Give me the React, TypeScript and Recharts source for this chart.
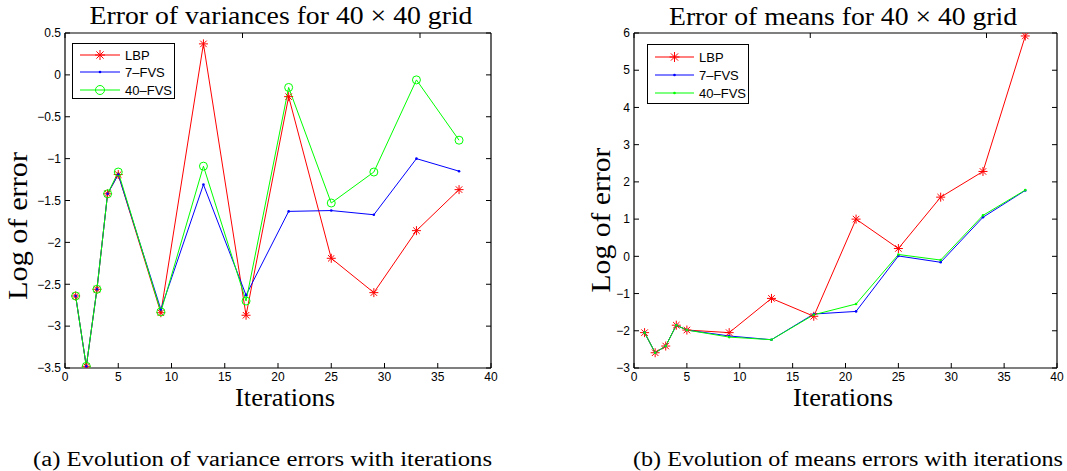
import React from 'react';
import { LineChart, Line, XAxis, YAxis, Legend } from 'recharts';

const iterations = [1, 2, 3, 4, 5, 9, 13, 17, 21, 25, 29, 33, 37];

const varLBP = [-2.64, -3.48, -2.56, -1.42, -1.19, -2.84, 0.37, -2.87, -0.26, -2.19, -2.6, -1.86, -1.37];
const var7FVS = [-2.64, -3.48, -2.56, -1.42, -1.19, -2.8, -1.31, -2.63, -1.63, -1.62, -1.67, -1.0, -1.15];
const var40FVS = [-2.64, -3.48, -2.56, -1.42, -1.16, -2.83, -1.09, -2.7, -0.15, -1.53, -1.16, -0.06, -0.78];

const meanLBP = [-2.05, -2.59, -2.41, -1.85, -1.98, -2.05, -1.13, -1.61, 1.0, 0.21, 1.59, 2.28, 5.92];
const mean7FVS = [-2.05, -2.59, -2.41, -1.85, -1.98, -2.14, -2.24, -1.55, -1.48, 0.01, -0.16, 1.05, 1.77];
const mean40FVS = [-2.05, -2.59, -2.41, -1.85, -1.98, -2.17, -2.24, -1.57, -1.28, 0.05, -0.1, 1.1, 1.78];

const xTicks = [0, 5, 10, 15, 20, 25, 30, 35, 40];
const varTicks = [-3.5, -3, -2.5, -2, -1.5, -1, -0.5, 0, 0.5];
const meanTicks = [-3, -2, -1, 0, 1, 2, 3, 4, 5, 6];

const seriesNames = ['LBP', '7\u2013FVS', '40\u2013FVS'];
const captions = ['(a) Evolution of variance errors with iterations', '(b) Evolution of means errors with iterations'];

const RED = '#ff0000';
const BLUE = '#0000ff';
const GREEN = '#00ff00';

const varData = iterations.map((it, i) => ({ it, lbp: varLBP[i], f7: var7FVS[i], f40: var40FVS[i] }));
const meanData = iterations.map((it, i) => ({ it, lbp: meanLBP[i], f7: mean7FVS[i], f40: mean40FVS[i] }));

const fmt = (v: number) => String(v).replace('-', '\u2212');
const blank = () => '';

const sans = "'Liberation Sans', Arial, sans-serif";
const serif = "'Liberation Serif', 'Times New Roman', serif";

const tickStyle = { fontFamily: sans, fontSize: 12, fill: '#000' };

function Asterisk({ cx, cy, color, r = 4.5 }: any) {
  if (cx == null || cy == null) return <g />;
  const d = r * 0.72;
  return (
    <g stroke={color} strokeWidth={1} fill="none">
      <line x1={cx - r} y1={cy} x2={cx + r} y2={cy} />
      <line x1={cx} y1={cy - r} x2={cx} y2={cy + r} />
      <line x1={cx - d} y1={cy - d} x2={cx + d} y2={cy + d} />
      <line x1={cx - d} y1={cy + d} x2={cx + d} y2={cy - d} />
    </g>
  );
}

const starDot = (props: any) => <Asterisk key={`s-${props.index}`} cx={props.cx} cy={props.cy} color={RED} />;
const blueDot = (props: any) => (
  <circle key={`b-${props.index}`} cx={props.cx} cy={props.cy} r={1.3} fill={BLUE} stroke="none" />
);
const greenSmallDot = (props: any) => (
  <circle key={`g-${props.index}`} cx={props.cx} cy={props.cy} r={1.3} fill={GREEN} stroke="none" />
);
const greenCircle = (props: any) => (
  <circle key={`c-${props.index}`} cx={props.cx} cy={props.cy} r={4} fill="none" stroke={GREEN} strokeWidth={1} />
);

function LegendBox({ rowY, lineX1, lineX2, textX, boxW, boxH, circle }: any) {
  const w = boxW;
  const h = boxH;
  const mid = (lineX1 + lineX2) / 2;
  return (
    <div style={{ width: w, height: h, position: 'relative', background: '#fff', border: '1.3px solid #000', boxSizing: 'border-box' }}>
      <svg width={w} height={h} style={{ position: 'absolute', left: -1, top: -1 }}>
        {[RED, BLUE, GREEN].map((c, i) => (
          <g key={c}>
            <line x1={lineX1} x2={lineX2} y1={rowY[i]} y2={rowY[i]} stroke={c} strokeWidth={1.2} />
            {i === 0 && <Asterisk cx={mid} cy={rowY[i]} color={RED} r={5} />}
            {i === 1 && <circle cx={mid} cy={rowY[i]} r={1.3} fill={BLUE} />}
            {i === 2 && (circle ? (
              <circle cx={mid} cy={rowY[i]} r={4.5} fill="none" stroke={GREEN} strokeWidth={1} />
            ) : (
              <circle cx={mid} cy={rowY[i]} r={1.3} fill={GREEN} />
            ))}
            <text x={textX} y={rowY[i] + 4.5} fontFamily={sans} fontSize={13} fill="#000">
              {seriesNames[i]}
            </text>
          </g>
        ))}
      </svg>
    </div>
  );
}

const axisLine = { stroke: '#000', strokeWidth: 1.2 };
const tickLine = { stroke: '#000' };

function Panel({ data, yDomain, yTicks, width, margin, legendPos, legendProps, circle }: any) {
  return (
    <LineChart width={width} height={471} data={data} margin={margin}>
      <XAxis
        dataKey="it"
        type="number"
        domain={[0, 40]}
        ticks={xTicks}
        height={1}
        tickSize={-5}
        tickMargin={9}
        tick={tickStyle}
        axisLine={axisLine}
        tickLine={tickLine}
        interval={0}
        allowDataOverflow
      />
      <XAxis
        xAxisId="top"
        orientation="top"
        type="number"
        domain={[0, 40]}
        ticks={xTicks}
        height={1}
        tickSize={-5}
        tickFormatter={blank}
        axisLine={axisLine}
        tickLine={tickLine}
        interval={0}
        allowDataOverflow
      />
      <YAxis
        type="number"
        domain={yDomain}
        ticks={yTicks}
        width={1}
        tickSize={-5}
        tickMargin={9}
        tick={tickStyle}
        tickFormatter={fmt}
        axisLine={axisLine}
        tickLine={tickLine}
        interval={0}
        allowDataOverflow
      />
      <YAxis
        yAxisId="right"
        orientation="right"
        type="number"
        domain={yDomain}
        ticks={yTicks}
        width={1}
        tickSize={-5}
        tickFormatter={blank}
        axisLine={axisLine}
        tickLine={tickLine}
        interval={0}
        allowDataOverflow
      />
      <Legend
        layout="horizontal"
        verticalAlign="middle"
        align="center"
        content={() => <LegendBox {...legendProps} circle={circle} />}
        wrapperStyle={{ position: 'absolute', left: legendPos.left, top: legendPos.top, width: 'auto', height: 'auto' }}
      />
      <Line dataKey="lbp" name="LBP" stroke={RED} strokeWidth={1} dot={starDot} isAnimationActive={false} />
      <Line dataKey="f7" name="7–FVS" stroke={BLUE} strokeWidth={1} dot={blueDot} isAnimationActive={false} />
      <Line dataKey="f40" name="40–FVS" stroke={GREEN} strokeWidth={1} dot={circle ? greenCircle : greenSmallDot} isAnimationActive={false} />
    </LineChart>
  );
}

export default function App() {
  return (
    <div style={{ position: 'absolute', left: 0, top: 0, width: 1067, height: 471, background: '#fff', overflow: 'hidden' }}>
      <div style={{ position: 'absolute', left: 0, top: 0 }}>
        <Panel
          data={varData}
          yDomain={[-3.5, 0.5]}
          yTicks={varTicks}
          width={540}
          margin={{ top: 32, left: 64, right: 48, bottom: 102 }}
          legendPos={{ left: 72, top: 43 }}
          legendProps={{ rowY: [12, 29, 47], lineX1: 8, lineX2: 48, textX: 53, boxW: 103, boxH: 56 }}
          circle
        />
      </div>
      <div style={{ position: 'absolute', left: 540, top: 0 }}>
        <Panel
          data={meanData}
          yDomain={[-3, 6]}
          yTicks={meanTicks}
          width={527}
          margin={{ top: 32, left: 93, right: 9, bottom: 102 }}
          legendPos={{ left: 107, top: 44 }}
          legendProps={{ rowY: [13, 31, 49], lineX1: 8, lineX2: 47, textX: 52, boxW: 102, boxH: 60 }}
          circle={false}
        />
      </div>
      <svg width={1067} height={471} style={{ position: 'absolute', left: 0, top: 0, pointerEvents: 'none' }}>
        <text x={281} y={24} textAnchor="middle" fontFamily={serif} fontSize={26} fill="#000" textLength={383} lengthAdjust="spacingAndGlyphs">
          Error of variances for 40 × 40 grid
        </text>
        <text x={843} y={25} textAnchor="middle" fontFamily={serif} fontSize={26} fill="#000" textLength={348} lengthAdjust="spacingAndGlyphs">
          Error of means for 40 × 40 grid
        </text>
        <text x={285} y={406} textAnchor="middle" fontFamily={serif} fontSize={26} fill="#000" textLength={100} lengthAdjust="spacingAndGlyphs">Iterations</text>
        <text x={843} y={406} textAnchor="middle" fontFamily={serif} fontSize={26} fill="#000" textLength={100} lengthAdjust="spacingAndGlyphs">Iterations</text>
        <text transform="translate(27,226) rotate(-90)" textAnchor="middle" fontFamily={serif} fontSize={27} fill="#000" textLength={148} lengthAdjust="spacingAndGlyphs">
          Log of error
        </text>
        <text transform="translate(610,220) rotate(-90)" textAnchor="middle" fontFamily={serif} fontSize={27} fill="#000" textLength={145} lengthAdjust="spacingAndGlyphs">
          Log of error
        </text>
        <text x={262.5} y={466} textAnchor="middle" fontFamily={serif} fontSize={20} fill="#000" textLength={459} lengthAdjust="spacingAndGlyphs">
          {captions[0]}
        </text>
        <text x={848} y={466} textAnchor="middle" fontFamily={serif} fontSize={20} fill="#000" textLength={430} lengthAdjust="spacingAndGlyphs">
          {captions[1]}
        </text>
      </svg>
    </div>
  );
}
